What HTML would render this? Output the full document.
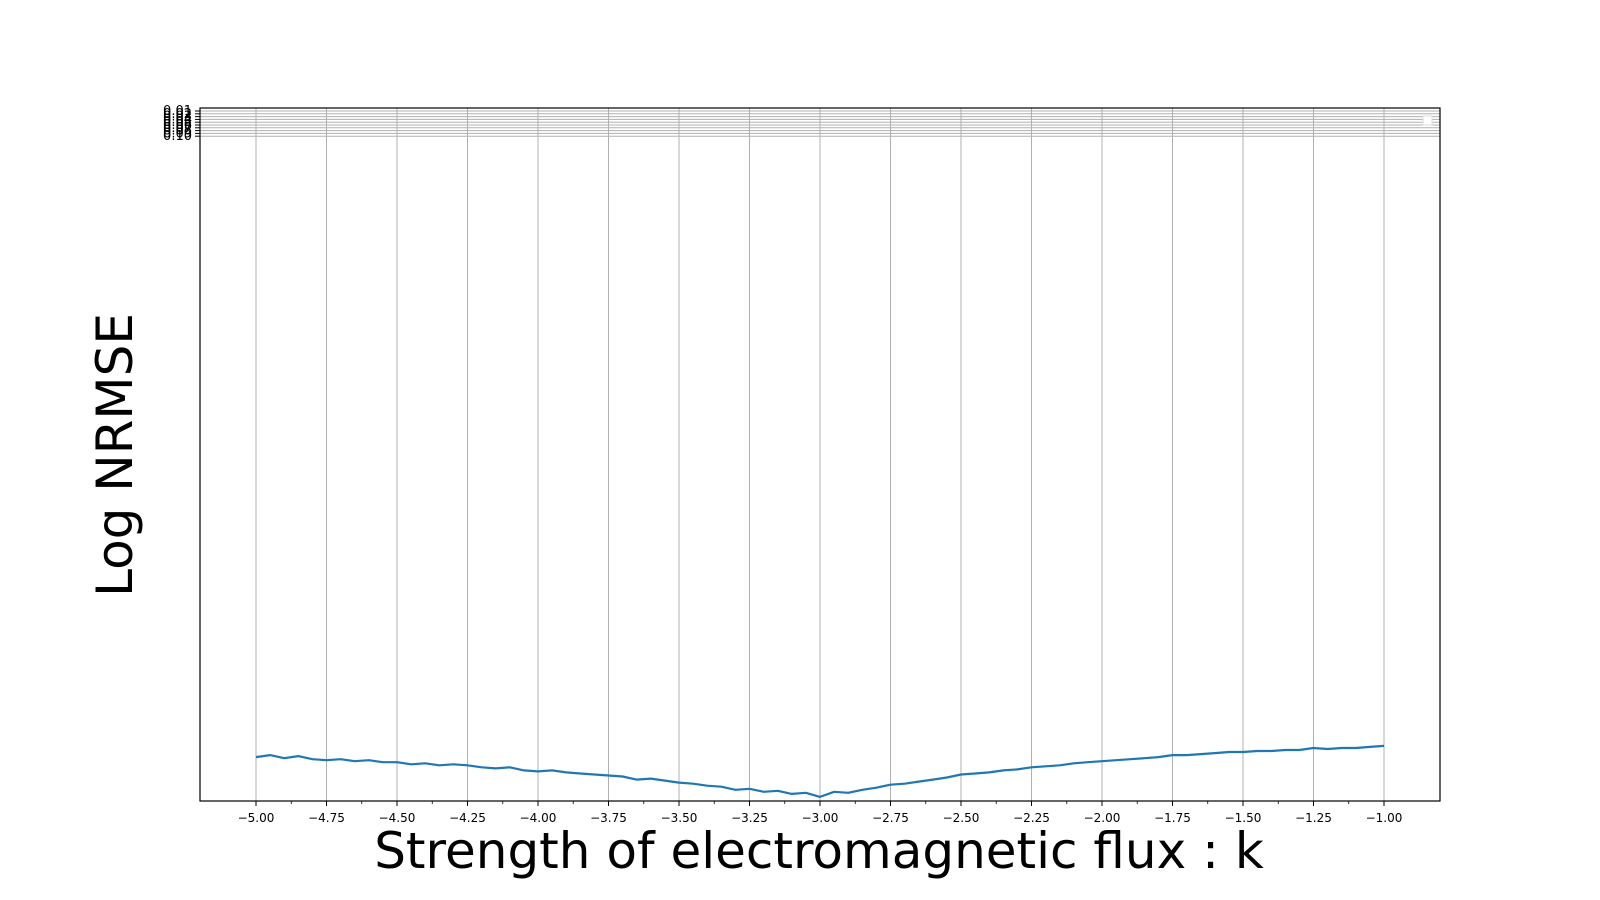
<!DOCTYPE html>
<html><head><meta charset="utf-8"><style>
html,body{margin:0;padding:0;background:#fff;}
svg{display:block;font-family:"DejaVu Sans","Liberation Sans",sans-serif;}
</style></head><body>
<svg id="chart" width="1600" height="900" viewBox="0 0 1600 900">
<rect width="1600" height="900" fill="#fff"/>
<g id="grid"></g>
<g id="marks"></g>
<rect x="200" y="108" width="1240" height="693" fill="none" stroke="#000" stroke-width="1.2"/>
<g id="axes"></g>
<rect x="1423" y="116" width="9" height="9" fill="#fff" stroke="#ddd"/>
<text x="819" y="868" font-size="50" text-anchor="middle">Strength of electromagnetic flux : k</text>
<text x="0" y="0" font-size="50" text-anchor="middle" transform="translate(132,455) rotate(-90)">Log NRMSE</text>
</svg>
<script>
const xTicks = [-5,-4.75,-4.5,-4.25,-4,-3.75,-3.5,-3.25,-3,-2.75,-2.5,-2.25,-2,-1.75,-1.5,-1.25,-1];
const xTickLabels = ["\u22125.00","\u22124.75","\u22124.50","\u22124.25","\u22124.00","\u22123.75","\u22123.50","\u22123.25","\u22123.00","\u22122.75","\u22122.50","\u22122.25","\u22122.00","\u22121.75","\u22121.50","\u22121.25","\u22121.00"];
const yTickLabels = ["0.01","0.02","0.03","0.04","0.05","0.06","0.07","0.08","0.09","0.10"];
const kValues = [];
for (let i = 0; i <= 80; i++) kValues.push(-5 + i * 0.05);
const nrmseLog = [-1.97,-1.95,-1.98,-1.96,-1.99,-2.00,-1.99,-2.01,-2.00,-2.02,-2.02,-2.04,-2.03,-2.05,-2.04,-2.05,-2.07,-2.08,-2.07,-2.10,-2.11,-2.10,-2.12,-2.13,-2.14,-2.15,-2.16,-2.19,-2.18,-2.20,-2.22,-2.23,-2.25,-2.26,-2.29,-2.28,-2.31,-2.30,-2.33,-2.32,-2.36,-2.31,-2.32,-2.29,-2.27,-2.24,-2.23,-2.21,-2.19,-2.17,-2.14,-2.13,-2.12,-2.10,-2.09,-2.07,-2.06,-2.05,-2.03,-2.02,-2.01,-2.00,-1.99,-1.98,-1.97,-1.95,-1.95,-1.94,-1.93,-1.92,-1.92,-1.91,-1.91,-1.90,-1.90,-1.88,-1.89,-1.88,-1.88,-1.87,-1.86];

const NS = "http://www.w3.org/2000/svg";
const L = 200, R = 1440, T = 108, B = 801;
const xScale = k => 256 + (k + 5) * (1384 - 256) / 4;
const yScale = v => B - (v + 2.4) * 102;
function mk(tag, attrs, parent) {
  const e = document.createElementNS(NS, tag);
  for (const a in attrs) e.setAttribute(a, attrs[a]);
  parent.appendChild(e);
  return e;
}
const grid = document.getElementById('grid');
const axes = document.getElementById('axes');
const marks = document.getElementById('marks');

xTicks.forEach((t, i) => {
  const x = xScale(t);
  const g = mk('line', {x1: x, x2: x, y1: T, y2: B, stroke: '#b0b0b0', 'stroke-width': 1}, grid);
  
  
  const tk = mk('line', {x1: x, x2: x, y1: B, y2: B + 5, stroke: '#000', 'stroke-width': 1}, axes);
  
  
  const tx = mk('text', {x: x, y: B + 21, 'font-size': 12, 'text-anchor': 'middle'}, axes);
  tx.textContent = xTickLabels[i];
  
  
  if (i < xTicks.length - 1) {
    const xm = xScale(t + 0.125);
    const m = mk('line', {x1: xm, x2: xm, y1: B, y2: B + 3, stroke: '#000', 'stroke-width': 0.8}, axes);
    
    
  }
});
yTickLabels.forEach((lab, i) => {
  const y = 111 + i * 2.8;
  const g = mk('line', {x1: L, x2: R, y1: y, y2: y, stroke: '#b0b0b0', 'stroke-width': 1}, grid);
  
  
  const tk = mk('line', {x1: L - 5, x2: L, y1: y, y2: y, stroke: '#000', 'stroke-width': 1}, axes);
  
  
  const tx = mk('text', {x: L - 8, y: y + 4, 'font-size': 13, 'text-anchor': 'end'}, axes);
  tx.textContent = lab;
  
  
});
const pts = kValues.map((k, i) => xScale(k).toFixed(1) + ',' + yScale(nrmseLog[i]).toFixed(1)).join(' ');
const line = mk('polyline', {points: pts, fill: 'none', stroke: '#1f77b4', 'stroke-width': 2.2, 'stroke-linejoin': 'round'}, marks);


</script>
</body></html>
